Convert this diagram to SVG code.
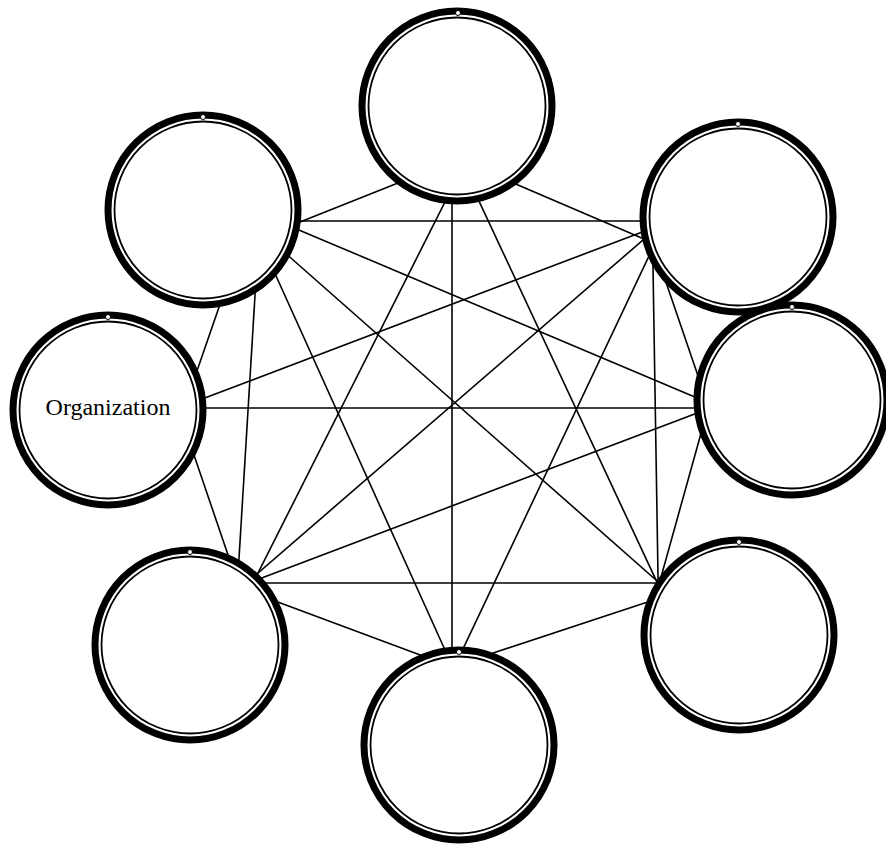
<svg xmlns="http://www.w3.org/2000/svg" width="886" height="845" viewBox="0 0 886 845">
<style>
.outer{fill:#fff;stroke:#000;stroke-width:7}
.inner{fill:none;stroke:#000;stroke-width:1.8}
.loop{fill:#fff;stroke:#000;stroke-width:1}
.edge{stroke:#000;stroke-width:1.6;fill:none}
.lbl{font-family:"Liberation Serif","Times New Roman",serif;font-size:24px;fill:#000;text-anchor:middle}
</style>
<defs>
<g id="ring">
<circle class="outer" r="95"/>
<circle class="inner" r="88.5"/>
</g>
</defs>
<g id="connectors">
<line class="edge" x1="294.4" y1="224.2" x2="398.6" y2="182.8"/>
<line class="edge" x1="294" y1="221" x2="647" y2="221"/>
<line class="edge" x1="293.5" y1="227.7" x2="702.5" y2="400.3"/>
<line class="edge" x1="287.5" y1="255" x2="660.5" y2="584"/>
<line class="edge" x1="274.5" y1="272.5" x2="447.5" y2="655.5"/>
<line class="edge" x1="255.4" y1="289" x2="238.6" y2="565"/>
<line class="edge" x1="220" y1="304.3" x2="196" y2="373.7"/>
<line class="edge" x1="514.5" y1="183.6" x2="647.5" y2="240.4"/>
<line class="edge" x1="449.7" y1="192.6" x2="255.3" y2="578.4"/>
<line class="edge" x1="452" y1="193" x2="452" y2="656"/>
<line class="edge" x1="475.5" y1="193.6" x2="658.5" y2="585.4"/>
<line class="edge" x1="647.6" y1="229.9" x2="199.4" y2="400.1"/>
<line class="edge" x1="647.5" y1="236.1" x2="253.5" y2="576.9"/>
<line class="edge" x1="650.6" y1="252.6" x2="460.4" y2="654.4"/>
<line class="edge" x1="652.9" y1="261" x2="658.1" y2="582"/>
<line class="edge" x1="666" y1="282.3" x2="699" y2="378.7"/>
<line class="edge" x1="199" y1="408" x2="703" y2="408"/>
<line class="edge" x1="191" y1="446.3" x2="230" y2="560.7"/>
<line class="edge" x1="702.6" y1="410.9" x2="256.4" y2="580.1"/>
<line class="edge" x1="701.6" y1="431.2" x2="661.4" y2="575.8"/>
<line class="edge" x1="256" y1="583" x2="661" y2="583"/>
<line class="edge" x1="272.4" y1="599.9" x2="425.6" y2="657.1"/>
<line class="edge" x1="484.3" y1="655.9" x2="650.7" y2="601.1"/>
</g>
<g id="nodes">
<g id="n_top"><use href="#ring" x="457" y="106"/><circle class="loop" cx="458" cy="13" r="2.5"/></g>
<g id="n_ul"><use href="#ring" x="203" y="210"/><circle class="loop" cx="203" cy="117" r="2.5"/></g>
<g id="n_ur"><use href="#ring" x="738" y="217"/><circle class="loop" cx="738" cy="124" r="2.5"/></g>
<g id="n_left"><use href="#ring" x="108" y="410"/><circle class="loop" cx="108" cy="317" r="2.5"/><text class="lbl" x="108" y="415">Organization</text></g>
<g id="n_right"><use href="#ring" x="792" y="400"/><circle class="loop" cx="792" cy="307" r="2.5"/></g>
<g id="n_ll"><use href="#ring" x="190" y="645"/><circle class="loop" cx="190" cy="552" r="2.5"/></g>
<g id="n_bottom"><use href="#ring" x="459" y="745"/><circle class="loop" cx="459" cy="652" r="2.5"/></g>
<g id="n_lr"><use href="#ring" x="739" y="635"/><circle class="loop" cx="739" cy="542" r="2.5"/></g>
</g>
</svg>
